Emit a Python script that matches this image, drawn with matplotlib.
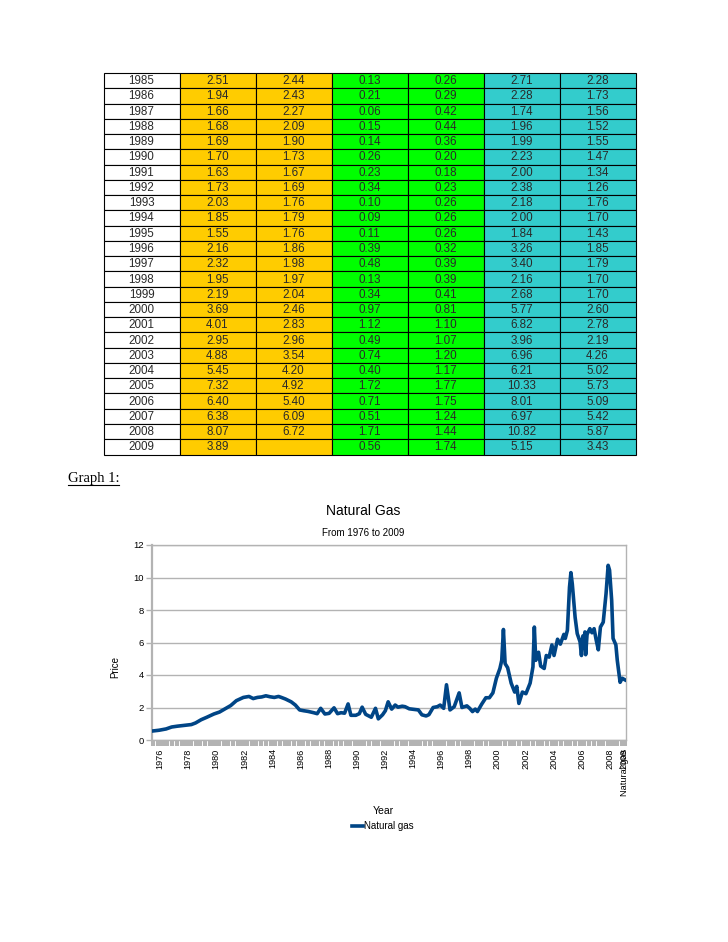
import matplotlib
matplotlib.use("Agg")
import matplotlib.pyplot as plt
from matplotlib.patches import Rectangle
import numpy as np

plt.rcParams['font.family'] = ['Liberation Sans', 'DejaVu Sans']

# ---- table values (top of the page) ----
table_years = ['1985', '1986', '1987', '1988', '1989', '1990', '1991', '1992', '1993',
               '1994', '1995', '1996', '1997', '1998', '1999', '2000', '2001', '2002',
               '2003', '2004', '2005', '2006', '2007', '2008', '2009']
orange_a = ['2.51', '1.94', '1.66', '1.68', '1.69', '1.70', '1.63', '1.73', '2.03', '1.85',
            '1.55', '2.16', '2.32', '1.95', '2.19', '3.69', '4.01', '2.95', '4.88', '5.45',
            '7.32', '6.40', '6.38', '8.07', '3.89']
orange_b = ['2.44', '2.43', '2.27', '2.09', '1.90', '1.73', '1.67', '1.69', '1.76', '1.79',
            '1.76', '1.86', '1.98', '1.97', '2.04', '2.46', '2.83', '2.96', '3.54', '4.20',
            '4.92', '5.40', '6.09', '6.72', '']
green_a = ['0.13', '0.21', '0.06', '0.15', '0.14', '0.26', '0.23', '0.34', '0.10', '0.09',
           '0.11', '0.39', '0.48', '0.13', '0.34', '0.97', '1.12', '0.49', '0.74', '0.40',
           '1.72', '0.71', '0.51', '1.71', '0.56']
green_b = ['0.26', '0.29', '0.42', '0.44', '0.36', '0.20', '0.18', '0.23', '0.26', '0.26',
           '0.26', '0.32', '0.39', '0.39', '0.41', '0.81', '1.10', '1.07', '1.20', '1.17',
           '1.77', '1.75', '1.24', '1.44', '1.74']
cyan_a = ['2.71', '2.28', '1.74', '1.96', '1.99', '2.23', '2.00', '2.38', '2.18', '2.00',
          '1.84', '3.26', '3.40', '2.16', '2.68', '5.77', '6.82', '3.96', '6.96', '6.21',
          '10.33', '8.01', '6.97', '10.82', '5.15']
cyan_b = ['2.28', '1.73', '1.56', '1.52', '1.55', '1.47', '1.34', '1.26', '1.76', '1.70',
          '1.43', '1.85', '1.79', '1.70', '1.70', '2.60', '2.78', '2.19', '4.26', '5.02',
          '5.73', '5.09', '5.42', '5.87', '3.43']

# ---- chart values ----
gas_year = [1976.0, 1976.5, 1977.0, 1977.4, 1977.8, 1978.3, 1978.8, 1979.1, 1979.5, 1979.9,
            1980.4, 1980.8, 1981.2, 1981.6, 1982.0, 1982.5, 1982.9, 1983.2, 1983.5, 1983.8,
            1984.1, 1984.4, 1984.7, 1985.0, 1985.2, 1985.5, 1985.9, 1986.2, 1986.5, 1986.8,
            1987.1, 1987.5, 1987.75, 1988.0, 1988.3, 1988.6, 1988.95, 1989.2, 1989.45, 1989.7,
            1989.95, 1990.15, 1990.5, 1990.75, 1990.95, 1991.2, 1991.6, 1991.9, 1992.1, 1992.4,
            1992.6, 1992.8, 1993.05, 1993.3, 1993.5, 1993.8, 1994.0, 1994.3, 1994.7, 1994.95,
            1995.2, 1995.5, 1995.7, 1996.0, 1996.3, 1996.5, 1996.75, 1996.95, 1997.2, 1997.5,
            1997.85, 1998.05, 1998.4, 1998.6, 1998.8, 1999.0, 1999.15, 1999.45, 1999.75, 2000.0,
            2000.25, 2000.5, 2000.75, 2000.88, 2001.0, 2001.12, 2001.3, 2001.55, 2001.8, 2001.95,
            2002.1, 2002.35, 2002.6, 2002.9, 2003.1, 2003.2, 2003.3, 2003.5, 2003.65, 2003.9,
            2004.05, 2004.25, 2004.45, 2004.6, 2004.85, 2005.05, 2005.3, 2005.4, 2005.55, 2005.7,
            2005.8, 2005.9, 2006.1, 2006.25, 2006.45, 2006.55, 2006.65, 2006.7, 2006.8, 2006.85,
            2006.95, 2007.15, 2007.3, 2007.45, 2007.6, 2007.75, 2007.9, 2008.1, 2008.3, 2008.45,
            2008.55, 2008.7, 2008.8, 2009.0, 2009.1, 2009.3, 2009.45, 2009.65]
gas_price = [0.55, 0.60, 0.68, 0.80, 0.85, 0.90, 0.95, 1.05, 1.25, 1.40,
             1.60, 1.72, 1.92, 2.12, 2.42, 2.62, 2.68, 2.55, 2.62, 2.65,
             2.72, 2.66, 2.62, 2.68, 2.62, 2.52, 2.35, 2.15, 1.85, 1.80,
             1.76, 1.68, 1.62, 1.95, 1.60, 1.64, 1.98, 1.62, 1.68, 1.65,
             2.22, 1.52, 1.52, 1.62, 2.02, 1.58, 1.40, 1.95, 1.30, 1.55,
             1.80, 2.35, 1.90, 2.15, 2.02, 2.08, 2.05, 1.92, 1.88, 1.85,
             1.55, 1.48, 1.56, 2.00, 2.05, 2.15, 1.95, 3.40, 1.85, 2.05,
             2.90, 2.00, 2.10, 1.95, 1.75, 1.90, 1.75, 2.20, 2.60, 2.60,
             2.90, 3.80, 4.40, 4.90, 6.80, 4.70, 4.45, 3.50, 2.95, 3.30,
             2.25, 2.95, 2.85, 3.50, 4.50, 6.95, 4.90, 5.40, 4.55, 4.40,
             5.20, 5.10, 5.85, 5.20, 6.20, 5.90, 6.50, 6.25, 6.75, 9.40,
             10.30, 9.60, 7.55, 6.55, 6.05, 5.20, 6.40, 5.85, 6.65, 5.25,
             6.50, 6.85, 6.60, 6.85, 6.15, 5.55, 6.95, 7.25, 9.00, 10.75,
             10.45, 8.60, 6.25, 5.85, 4.90, 3.55, 3.80, 3.70]
label_years = ['1976', '1978', '1980', '1982', '1984', '1986', '1988', '1990', '1992',
               '1994', '1996', '1998', '2000', '2002', '2004', '2006', '2008', '2009']

W, H = 728, 942
fig = plt.figure(figsize=(W / 100, H / 100), dpi=100)
fig.patch.set_facecolor('white')

# page layer in pixel units
page = fig.add_axes([0, 0, 1, 1])
page.set_xlim(0, W)
page.set_ylim(H, 0)
page.axis('off')

columns = [table_years, orange_a, orange_b, green_a, green_b, cyan_a, cyan_b]
fills = ['white', '#ffcc00', '#ffcc00', '#00ff00', '#00ff00', '#33cccc', '#33cccc']
t_left, t_top, cw, rh = 103.5, 73.0, 76.0, 15.26
for j, col in enumerate(columns):
    for i, val in enumerate(col):
        x0 = t_left + j * cw
        y0 = t_top + i * rh
        page.add_patch(Rectangle((x0, y0), cw, rh, facecolor=fills[j],
                                 edgecolor='black', lw=0.8))
        page.text(x0 + cw / 2, y0 + rh / 2 + 0.5, val, ha='center', va='center',
                  fontsize=8.4, color='#2a2a2a')

page.text(67.5, 482, 'Graph 1:', family=['Liberation Serif', 'DejaVu Serif'],
          fontsize=10.5, va='baseline', ha='left')
page.plot([67.5, 118.5], [484.5, 484.5], color='black', lw=0.8)

# chart
ax = fig.add_axes([152 / W, 1 - 740 / H, (626 - 152) / W, (740 - 545) / H])
ax.plot(gas_year, gas_price, color='#004586', lw=2.6, solid_joinstyle='round',
        label='Natural gas', zorder=3)
ax.set_xlim(1976, 2009.72)
ax.set_ylim(0, 12)
ax.set_yticks(range(0, 13, 2))
ax.yaxis.grid(True, color='#b3b3b3', lw=1)
ax.set_axisbelow(True)
for s in ax.spines.values():
    s.set_color('#b3b3b3')
    s.set_linewidth(1)
ax.spines['left'].set_linewidth(1.6)
ax.tick_params(axis='y', length=4, width=1, color='#b3b3b3', labelsize=6.8, pad=2)

tick_pos = [int(y) + 0.57 for y in label_years]
ax.set_xticks(tick_pos + [2009.62], label_years + ['Natural gas'], rotation=90)
ax.set_xticks(np.arange(1976.1, 2009.7, 1 / 3), minor=True)
ax.tick_params(axis='x', which='both', length=4.5, width=2.9, color='#b3b3b3',
               labelsize=6.6, pad=1.5, direction='out')

fig.text(363 / W, 1 - 510.7 / H, 'Natural Gas', ha='center', va='center', fontsize=10)
fig.text(363 / W, 1 - 533 / H, 'From 1976 to 2009', ha='center', va='center', fontsize=7)
fig.text(115 / W, 1 - 667 / H, 'Price', ha='center', va='center', rotation=90, fontsize=7)
fig.text(383 / W, 1 - 810.5 / H, 'Year', ha='center', va='center', fontsize=7.5)
ax.legend(loc='center', bbox_to_anchor=(383 / W, 1 - 826 / H), bbox_transform=fig.transFigure,
          frameon=False, fontsize=7, handlelength=1.1, handletextpad=0.1, borderpad=0)

fig.savefig('out.png', dpi=100, facecolor='white')
